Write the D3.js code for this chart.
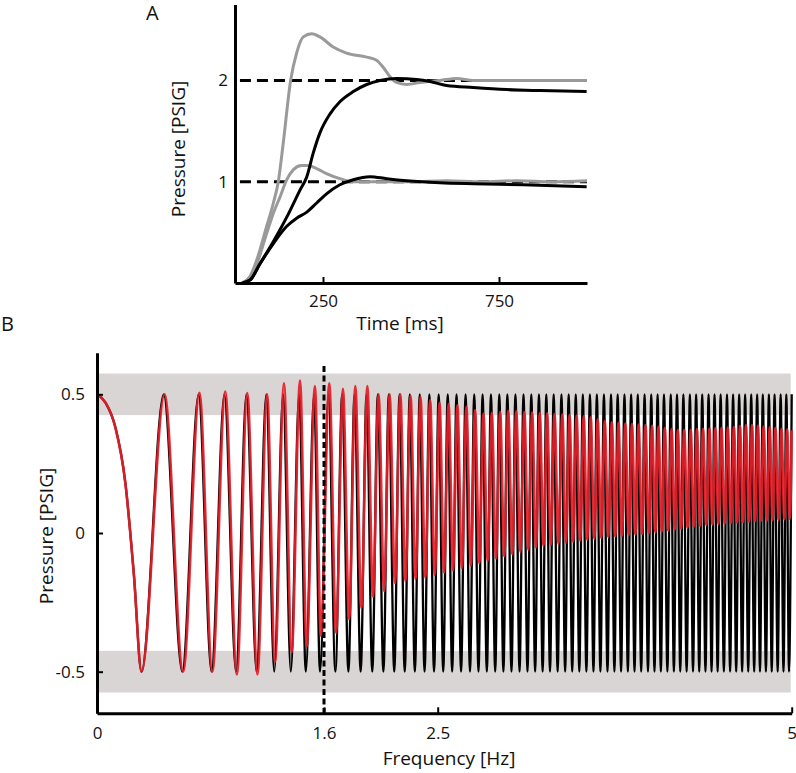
<!DOCTYPE html>
<html><head><meta charset="utf-8">
<script src="https://cdn.jsdelivr.net/npm/d3@7/dist/d3.min.js"></script>
<style>
html,body{margin:0;padding:0;background:#fff;}
svg{display:block;font-family:"Open Sans",sans-serif;}
</style></head>
<body>
<svg id="chart" width="796" height="773"></svg>
<script>
// ---------- Panel A data (time ms, pressure PSIG) ----------
const aTargets = [1, 2];
const aTicksX = [250, 750];
const aTicksY = [1, 2];
const grayHigh = [[19,0],[40,0.05],[62,0.23],[90,0.56],[109,0.79],[123,1.0],[137,1.38],[158,2.0],[175,2.27],[194,2.43],[218,2.46],[241,2.43],[279,2.33],[317,2.27],[374,2.23],[402,2.2],[421,2.13],[440,2.04],[459,1.98],[488,1.96],[525,1.98],[582,2.0],[630,2.02],[677,2.0],[800,2.0],[900,2.0],[1000,2.0]];
const grayLow = [[19,0],[40,0.05],[62,0.19],[90,0.49],[109,0.69],[128,0.85],[147,1.02],[166,1.12],[189,1.16],[208,1.16],[232,1.13],[260,1.08],[298,1.03],[336,1.0],[393,1.0],[500,1.0],[600,1.01],[700,1.0],[800,1.01],[900,1.0],[1000,1.01]];
const blackHigh = [[22,0],[43,0.03],[71,0.19],[109,0.41],[147,0.65],[185,0.92],[204,1.05],[222,1.28],[241,1.48],[270,1.67],[298,1.79],[336,1.89],[374,1.96],[412,2.0],[459,2.02],[516,2.01],[554,1.99],[601,1.95],[677,1.93],[772,1.91],[866,1.9],[999,1.89]];
const blackLow = [[22,0],[43,0.03],[71,0.19],[109,0.39],[147,0.56],[175,0.64],[204,0.70],[232,0.79],[260,0.88],[298,0.97],[336,1.02],[384,1.05],[431,1.03],[488,1.01],[582,0.99],[677,0.98],[819,0.97],[999,0.95]];

// ---------- Panel B data (frequency Hz, pressure PSIG) ----------
const bTicksX = [0, 1.6, 2.5, 5];
const bTicksY = [-0.5, 0, 0.5];
const bTickLabelsY = ["-0.5", "0", "0.5"];
const cutoffHz = 1.6;
const bandCenters = [0.5, -0.5];
const bandHalfWidth = 0.075;
const blackAmp = 0.5;
// slow first descent from the start value
const leadInHz  = [0.06, 0.13, 0.20, 0.26];
const leadInVal = [0.47, 0.38, 0.18, -0.15];
const peakHz = [0,0.470,0.716,0.898,1.053,1.193,1.312,1.425,1.530,1.636,1.744,1.842,1.937,2.026,2.113,2.198,2.279,2.358,2.434,2.507,2.571,2.633,2.697,2.758,2.817,2.876,2.935,2.992,3.049,3.106,3.161,3.215,3.267,3.319,3.374,3.425,3.475,3.525,3.575,3.624,3.674,3.724,3.771,3.819,3.866,3.913,3.961,4.008,4.053,4.098,4.146,4.190,4.235,4.281,4.325,4.368,4.413,4.455,4.498,4.543,4.586,4.629,4.671,4.714,4.756,4.796,4.839,4.879,4.922,4.962,5.0];
const troughHz = [0.314,0.601,0.807,0.980,1.125,1.249,1.366,1.472,1.572,1.690,1.793,1.890,1.982,2.070,2.156,2.239,2.319,2.396,2.471,2.539,2.602,2.665,2.728,2.788,2.847,2.906,2.964,3.021,3.078,3.134,3.188,3.241,3.293,3.347,3.400,3.450,3.500,3.550,3.600,3.649,3.699,3.748,3.795,3.843,3.890,3.937,3.985,4.031,4.076,4.122,4.168,4.213,4.258,4.303,4.347,4.391,4.434,4.477,4.521,4.565,4.608,4.650,4.693,4.735,4.776,4.818,4.859,4.901,4.942,4.981];
const redUpperHz  = [0,   0.47, 0.898,1.193,1.312,1.425,1.530,1.636,1.744,1.842,1.937,2.026,2.2, 2.36,2.5, 2.7,  2.82,3.0, 3.3, 3.55,3.7, 4.0,  4.2, 4.55,4.7, 5.0];
const redUpperVal = [0.5, 0.5,  0.51, 0.5,  0.54, 0.55, 0.53, 0.54, 0.52, 0.53, 0.53, 0.5,  0.5, 0.49,0.47,0.455,0.43,0.44,0.43,0.42,0.40,0.387,0.37,0.38,0.39,0.37];
const redLowerHz  = [0.314,0.807,0.980,1.125,1.249,1.366,1.472,1.572,1.690,1.793,1.890,1.982,2.07, 2.156,2.4,  2.6,  2.85,3.2,  3.5,   3.7,   4.0, 4.4, 5.0];
const redLowerVal = [-0.5, -0.5, -0.51,-0.51,-0.465,-0.43,-0.41,-0.37,-0.36,-0.31,-0.27,-0.23,-0.21,-0.18,-0.16,-0.135,-0.1,-0.05,-0.027,-0.014,0.0, 0.03,0.052];
const redLagHz = 0.006;

// ---------- Drawing ----------
const svg = d3.select("#chart");
const AX = 3;

// Panel A
const xA = d3.scaleLinear().domain([0, 1000]).range([235, 587]);
const yA = d3.scaleLinear().domain([0, 2.75]).range([283, 4.5]);
const gA = svg.append("g");
const lineA = d3.line().x(d => xA(d[0])).y(d => yA(d[1])).curve(d3.curveMonotoneX);

gA.selectAll("line.target").data(aTargets).join("line")
  .attr("x1", xA(14)).attr("x2", xA(1000))
  .attr("y1", d => yA(d)).attr("y2", d => yA(d))
  .attr("stroke", "#000").attr("stroke-width", 3).attr("stroke-dasharray", "11,6");
[[grayHigh, "#9a9a9a"], [grayLow, "#9a9a9a"], [blackHigh, "#000"], [blackLow, "#000"]].forEach(([d, c]) => {
  gA.append("path").datum(d).attr("d", lineA).attr("fill", "none")
    .attr("stroke", c).attr("stroke-width", 3).attr("stroke-linejoin", "round");
});

const axAx = gA.append("g").attr("transform", `translate(0,${yA(0)})`)
  .call(d3.axisBottom(xA).tickValues(aTicksX).tickSizeInner(-6).tickSizeOuter(0).tickPadding(12));
const axAy = gA.append("g").attr("transform", `translate(${xA(0)},0)`)
  .call(d3.axisLeft(yA).tickValues(aTicksY).tickSizeInner(0).tickSizeOuter(0).tickPadding(7).tickFormat(d3.format("d")));
[axAx, axAy].forEach(a => {
  a.select(".domain").attr("stroke-width", AX);
  a.selectAll(".tick line").attr("stroke-width", 2);
  a.selectAll("text").attr("font-size", 17).attr("fill", "#111").attr("font-family", "Open Sans");
});
gA.append("text").attr("x", 400).attr("y", 330).attr("text-anchor", "middle")
  .attr("font-size", 19).attr("fill", "#111").text("Time [ms]");
gA.append("text").attr("transform", "translate(185,149) rotate(-90)").attr("text-anchor", "middle")
  .attr("font-size", 19).attr("fill", "#111").text("Pressure [PSIG]");
gA.append("text").attr("x", 146).attr("y", 20).attr("font-size", 20).attr("fill", "#111").text("A");

// Panel B
const xB = d3.scaleLinear().domain([0, 1.6, 2.5, 5]).range([97, 324, 437.7, 791.7]);
const yB = d3.scaleLinear().domain([-0.65, 0.65]).range([713.3, 352.7]);
const gB = svg.append("g");

gB.selectAll("rect.band").data(bandCenters).join("rect")
  .attr("x", xB(0)).attr("width", xB(5) - xB(0) - 1)
  .attr("y", d => yB(d + bandHalfWidth)).attr("height", d => yB(d - bandHalfWidth) - yB(d + bandHalfWidth))
  .attr("fill", "#d9d5d5");

// extremes, alternating peak / trough, with the lead-in shoulder after the start
const upEnv = d3.scaleLinear().domain(redUpperHz).range(redUpperVal).clamp(true);
const loEnv = d3.scaleLinear().domain(redLowerHz).range(redLowerVal).clamp(true);
const blackPts = [], redPts = [];
peakHz.forEach((p, i) => {
  blackPts.push([p, blackAmp]);
  redPts.push([i === 0 ? p : Math.min(5, p + redLagHz), upEnv(p)]);
  if (i === 0) {
    leadInHz.forEach((f, j) => { blackPts.push([f, leadInVal[j]]); redPts.push([f, leadInVal[j]]); });
  }
  if (i < troughHz.length) {
    const t = troughHz[i];
    blackPts.push([t, -blackAmp]);
    redPts.push([i === 0 ? t : t + redLagHz, loEnv(t)]);
  }
});

const lineB = d3.line().x(d => xB(d[0])).y(d => yB(d[1])).curve(d3.curveMonotoneX);
gB.append("path").datum(blackPts).attr("d", lineB).attr("fill", "none")
  .attr("stroke", "#000").attr("stroke-width", 2.3);
gB.append("path").datum(redPts).attr("d", lineB).attr("fill", "none")
  .attr("stroke", "#e3202a").attr("stroke-width", 2.6).attr("stroke-opacity", 0.93);

gB.append("line").attr("x1", xB(cutoffHz)).attr("x2", xB(cutoffHz))
  .attr("y1", 366).attr("y2", yB(-0.65))
  .attr("stroke", "#000").attr("stroke-width", 3).attr("stroke-dasharray", "6,3.5");

const axBx = gB.append("g").attr("transform", `translate(0,${yB(-0.65)})`)
  .call(d3.axisBottom(xB).tickValues(bTicksX).tickSizeInner(-6).tickSizeOuter(0).tickPadding(14).tickFormat(d => String(d)));
const axBy = gB.append("g").attr("transform", `translate(${xB(0)},0)`)
  .call(d3.axisLeft(yB).tickValues(bTicksY).tickSizeInner(-6).tickSizeOuter(0).tickPadding(12).tickFormat((d, i) => bTickLabelsY[i]));
[axBx, axBy].forEach(a => {
  a.select(".domain").attr("stroke-width", AX);
  a.selectAll(".tick line").attr("stroke-width", 2);
  a.selectAll("text").attr("font-size", 17).attr("fill", "#111").attr("font-family", "Open Sans");
});
gB.append("text").attr("x", 449).attr("y", 765).attr("text-anchor", "middle")
  .attr("font-size", 19).attr("fill", "#111").text("Frequency [Hz]");
gB.append("text").attr("transform", "translate(53,536) rotate(-90)").attr("text-anchor", "middle")
  .attr("font-size", 19).attr("fill", "#111").text("Pressure [PSIG]");
gB.append("text").attr("x", 1).attr("y", 331).attr("font-size", 20).attr("fill", "#111").text("B");
</script>
</body></html>
